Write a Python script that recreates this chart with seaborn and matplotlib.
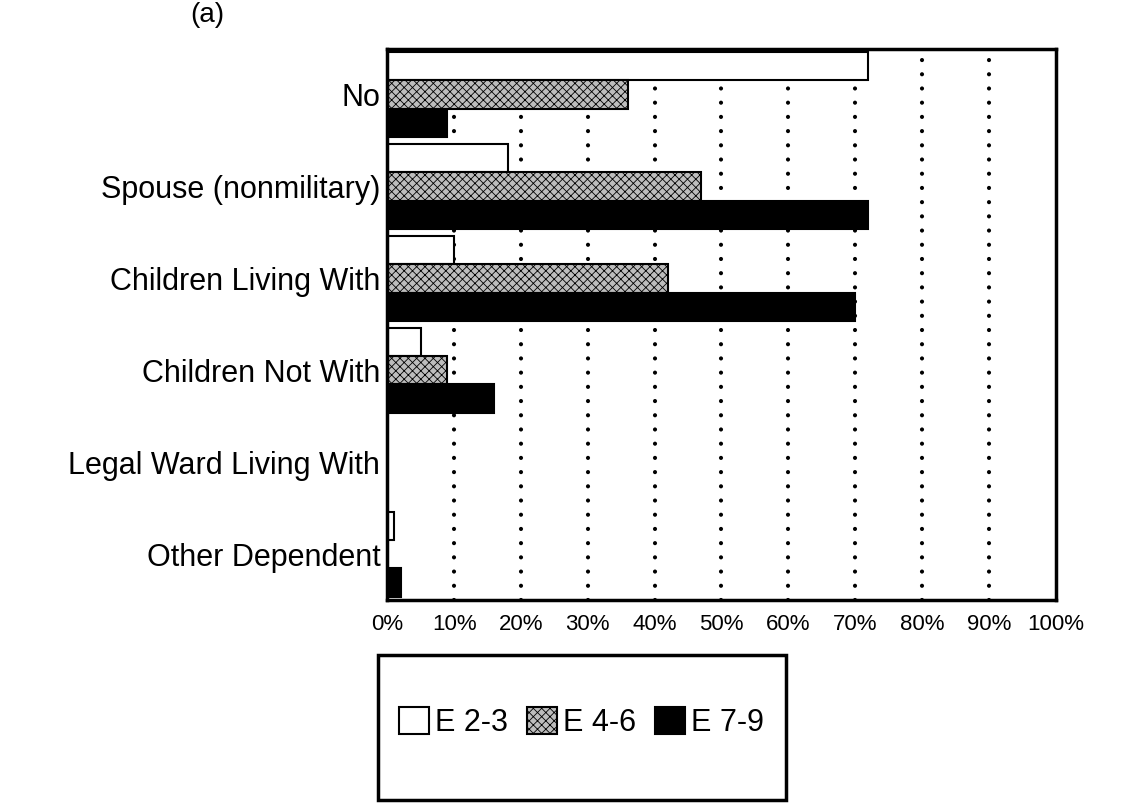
import numpy as np
import pandas as pd
import matplotlib.pyplot as plt
import seaborn as sns
from matplotlib.patches import Patch, Rectangle

# values (percent)
categories = ['No', 'Spouse (nonmilitary)', 'Children Living With',
              'Children Not With', 'Legal Ward Living With', 'Other Dependent']
grades = ['E 2-3', 'E 4-6', 'E 7-9']
e23 = [72, 18, 10, 5, 0, 1]
e46 = [36, 47, 42, 9, 0, 0]
e79 = [9, 72, 70, 16, 0, 2]
xticks = [0, 10, 20, 30, 40, 50, 60, 70, 80, 90, 100]

sns.set_style('white')
plt.rcParams['font.family'] = ['Liberation Sans', 'DejaVu Sans']
plt.rcParams['hatch.linewidth'] = 0.6
plt.rcParams['text.color'] = 'black'
plt.rcParams['xtick.color'] = 'black'
plt.rcParams['ytick.color'] = 'black'

df = pd.DataFrame({
    'Dependent': categories * 3,
    'Percent': e23 + e46 + e79,
    'Grade': [g for g in grades for _ in categories],
})

fills = ['white', '#bdbdbd', 'black']

fig = plt.figure(figsize=(11.29, 8.09), dpi=100)
ax = fig.add_axes([0.343, 0.258, 0.592, 0.682])

# dotted vertical gridlines behind the bars
for v in xticks[1:-1]:
    ax.axvline(v, color='black', lw=3, ls=(0, (0.01, 3.4)),
               dash_capstyle='round', zorder=0.5)

sns.barplot(data=df, y='Dependent', x='Percent', hue='Grade', orient='h',
            palette=fills, saturation=1, edgecolor='black', linewidth=1.5,
            width=0.92, legend=False, ax=ax)

for p in ax.containers[1]:
    p.set_hatch('xxxx')

ax.set_xlim(0, 100)
ax.set_xticks(xticks)
ax.set_xticklabels([f'{v}%' for v in xticks])
ax.set_xlabel('')
ax.set_ylabel('')
ax.tick_params(axis='x', length=0, labelsize=16, pad=10, labelcolor='black')
ax.tick_params(axis='y', length=0, labelsize=22, pad=5, labelcolor='black')
for s in ax.spines.values():
    s.set_visible(True)
    s.set_color('black')
    s.set_linewidth(2.5)

# legend in a box below the chart
handles = [Patch(facecolor=fills[i], edgecolor='black', linewidth=1.5,
                 hatch='xxxx' if i == 1 else None, label=grades[i])
           for i in range(3)]
fig.legend(handles=handles, loc='center', bbox_to_anchor=(0.515, 0.107),
           ncol=3, fontsize=22, frameon=False, handlelength=1.0,
           handleheight=1.0, handletextpad=0.2, columnspacing=0.6)
fig.add_artist(Rectangle((378 / 1129, 1 - 800 / 809), 408 / 1129, 145 / 809,
                         transform=fig.transFigure, fill=False,
                         edgecolor='black', lw=2.5))

# panel tag (mostly cut off at the top of the scan)
fig.text(190 / 1129, 1 - 2 / 809, '(a)', fontsize=20, ha='left', va='top')

fig.savefig('out.png', dpi=100)
